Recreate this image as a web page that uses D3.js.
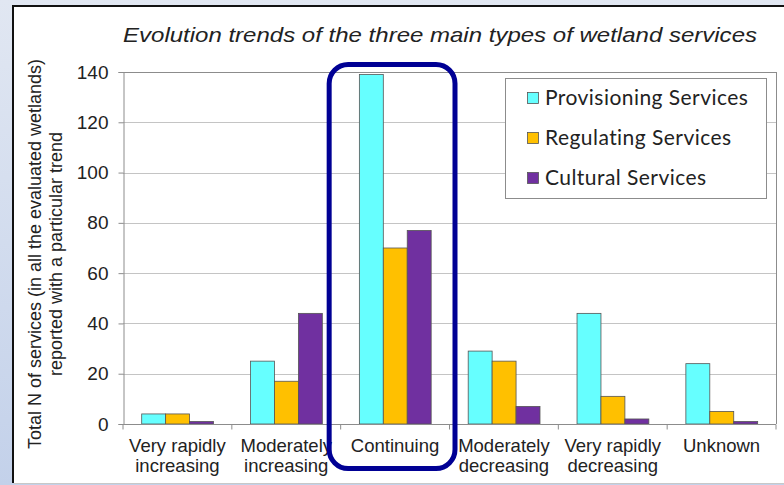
<!DOCTYPE html>
<html>
<head>
<meta charset="utf-8">
<script src="https://cdn.jsdelivr.net/npm/d3@7"></script>
<style>
  html, body { margin: 0; padding: 0; background: #fff; }
  svg { display: block; }
</style>
</head>
<body>
<svg id="chart" width="784" height="485"></svg>
<script>
// ---- data ----
const categories = ["Very rapidly increasing", "Moderately increasing", "Continuing",
                    "Moderately decreasing", "Very rapidly decreasing", "Unknown"];
const categoryLabelLines = [["Very rapidly", "increasing"], ["Moderately", "increasing"], ["Continuing"],
                            ["Moderately", "decreasing"], ["Very rapidly", "decreasing"], ["Unknown"]];
const seriesNames = ["Provisioning Services", "Regulating Services", "Cultural Services"];
const provisioning = [4, 25, 139, 29, 44, 24];
const regulating   = [4, 17, 70, 25, 11, 5];
const cultural     = [1, 44, 77, 7, 2, 1];
const yTicks = [0, 20, 40, 60, 80, 100, 120, 140];
const highlighted = "Continuing";
const titleText = "Evolution trends of the three main types of wetland services";
const yLabelLines = ["Total N of services (in all the evaluated wetlands)", "reported with a particular trend"];

const seriesValues = [provisioning, regulating, cultural];
const colors = ["#66FFFF", "#FFC000", "#7030A0"];

// ---- layout ----
const W = 784, H = 485;
const plot = { left: 123, right: 776, top: 72, bottom: 424 };
const svg = d3.select("#chart");
const defs = svg.append("defs");
const grad = defs.append("linearGradient").attr("id", "bg").attr("x1", 0).attr("y1", 0).attr("x2", 0).attr("y2", 1);
grad.append("stop").attr("offset", "0%").attr("stop-color", "#e1e7f2");
grad.append("stop").attr("offset", "100%").attr("stop-color", "#c3d1ea");

svg.append("rect").attr("width", W).attr("height", H).attr("fill", "url(#bg)");
// white panel
svg.append("rect").attr("x", 13).attr("y", 6).attr("width", W).attr("height", 477)
  .attr("fill", "#fff").attr("stroke", "none");
svg.append("line").attr("x1", 12).attr("x2", W).attr("y1", 6).attr("y2", 6).attr("stroke", "#111").attr("stroke-width", 2);
svg.append("line").attr("x1", 13).attr("x2", 13).attr("y1", 5).attr("y2", 483).attr("stroke", "#111").attr("stroke-width", 2);
svg.append("line").attr("x1", 14).attr("x2", W).attr("y1", 483.5).attr("y2", 483.5).attr("stroke", "#c8c8c8").attr("stroke-width", 1);

// scales
const x0 = d3.scaleBand().domain(categories).range([plot.left, plot.right]).paddingInner(0).paddingOuter(0);
const x1 = d3.scaleBand().domain(seriesNames).range([18.7, 90.5]).padding(0);
const y = d3.scaleLinear().domain([0, 140]).range([plot.bottom, plot.top]);

// gridlines
svg.append("g").selectAll("line").data(yTicks.filter(d => d > 0)).join("line")
  .attr("x1", plot.left).attr("x2", plot.right)
  .attr("y1", d => Math.round(y(d)) + 0.5).attr("y2", d => Math.round(y(d)) + 0.5)
  .attr("stroke", d => d === 140 ? "#8c8c8c" : "#c4c4c4").attr("stroke-width", 1);
// right border
svg.append("line").attr("x1", plot.right + 0.5).attr("x2", plot.right + 0.5)
  .attr("y1", plot.top).attr("y2", plot.bottom).attr("stroke", "#8c8c8c");

// bars
const groups = svg.append("g").selectAll("g").data(categories).join("g")
  .attr("transform", d => `translate(${x0(d)},0)`);
groups.selectAll("rect").data((c, i) => seriesNames.map((s, j) => ({ s, j, v: seriesValues[j][i] })))
  .join("rect")
  .attr("x", d => x1(d.s)).attr("width", x1.bandwidth())
  .attr("y", d => y(d.v)).attr("height", d => y(0) - y(d.v))
  .attr("fill", d => colors[d.j]).attr("stroke", "#555").attr("stroke-width", 0.8);

// y axis
const yAxis = d3.axisLeft(y).tickValues(yTicks).tickSize(5).tickPadding(10);
const ya = svg.append("g").attr("transform", `translate(${plot.left + 0.5},0)`).call(yAxis);
ya.select(".domain").attr("stroke", "#8c8c8c");
ya.selectAll(".tick line").attr("stroke", "#8c8c8c");
ya.selectAll(".tick text").attr("font-family", "Liberation Sans, Arial, sans-serif")
  .attr("font-size", 19).attr("fill", "#222");

// x axis
const xa = svg.append("g").attr("transform", `translate(0,${plot.bottom + 0.5})`);
xa.append("line").attr("x1", plot.left).attr("x2", plot.right).attr("stroke", "#8c8c8c");
xa.selectAll("line.t").data(categories.concat(["end"])).join("line").attr("class", "t")
  .attr("x1", d => d === "end" ? plot.right : x0(d)).attr("x2", d => d === "end" ? plot.right : x0(d))
  .attr("y1", 0).attr("y2", 5).attr("stroke", "#8c8c8c");
const xl = xa.selectAll("text").data(categories).join("text")
  .attr("x", d => x0(d) + x0.bandwidth() / 2)
  .attr("text-anchor", "middle")
  .attr("font-family", "Liberation Sans, Arial, sans-serif").attr("font-size", 18.5).attr("fill", "#222");
xl.each(function(d, i) {
  const t = d3.select(this);
  categoryLabelLines[i].forEach((ln, k) => {
    t.append("tspan").attr("x", x0(d) + x0.bandwidth() / 2).attr("y", 27 + k * 20).text(ln);
  });
});

// title
svg.append("text").attr("x", 123).attr("y", 42).attr("text-anchor", "start")
  .attr("font-family", "Liberation Sans, Arial, sans-serif").attr("font-style", "italic")
  .attr("font-size", 21).attr("textLength", 634).attr("lengthAdjust", "spacingAndGlyphs")
  .attr("fill", "#222").text(titleText);

// y label
yLabelLines.forEach((ln, k) => {
  svg.append("text").attr("transform", `translate(${41 + k * 21},254) rotate(-90)`)
    .attr("text-anchor", "middle")
    .attr("font-family", "Liberation Sans, Arial, sans-serif").attr("font-size", 18)
    .attr("fill", "#222").text(ln);
});

// legend
const lg = svg.append("g");
lg.append("rect").attr("x", 505.5).attr("y", 78.5).attr("width", 261).attr("height", 120)
  .attr("fill", "#fff").attr("stroke", "#8c8c8c");
seriesNames.forEach((s, i) => {
  const cy = 98 + i * 40;
  lg.append("rect").attr("x", 527.5).attr("y", cy - 5.5).attr("width", 11).attr("height", 11)
    .attr("fill", colors[i]).attr("stroke", "#555").attr("stroke-width", 0.8);
  lg.append("text").attr("x", 545).attr("y", cy + 7)
    .attr("font-family", "Lato, sans-serif").attr("font-size", 21).attr("letter-spacing", 0.45)
    .attr("fill", "#222").text(s);
});

// highlight box around the "Continuing" group
const hx = x0(highlighted);
svg.append("rect").attr("x", hx - 11.5).attr("y", 64.5).attr("width", x0.bandwidth() + 17)
  .attr("height", 404).attr("rx", 19).attr("ry", 19)
  .attr("fill", "none").attr("stroke", "#000094").attr("stroke-width", 5);
</script>
</body>
</html>
